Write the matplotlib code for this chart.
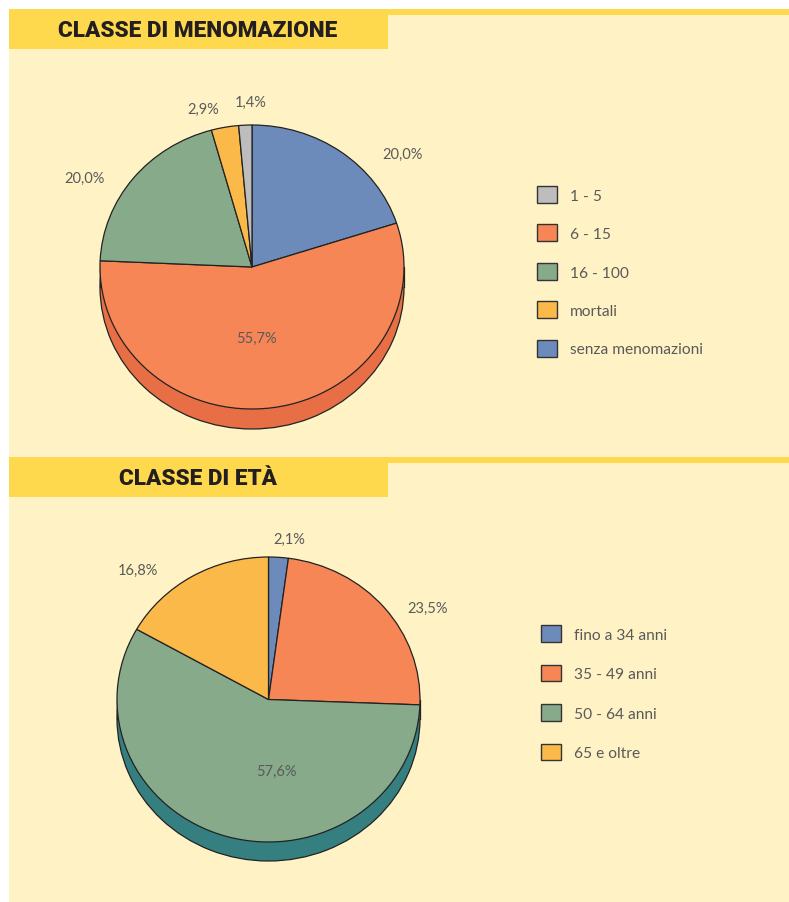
import numpy as np
import matplotlib.pyplot as plt
from matplotlib.patches import Rectangle, Patch

# --- data -------------------------------------------------------------
menom_labels = ["senza menomazioni", "6 - 15", "16 - 100", "mortali", "1 - 5"]
menom_values = [20.0, 55.7, 20.0, 2.9, 1.4]
menom_legend = ["1 - 5", "6 - 15", "16 - 100", "mortali", "senza menomazioni"]

eta_labels = ["fino a 34 anni", "35 - 49 anni", "50 - 64 anni", "65 e oltre"]
eta_values = [2.1, 23.5, 57.6, 16.8]
eta_legend = ["fino a 34 anni", "35 - 49 anni", "50 - 64 anni", "65 e oltre"]

# --- style ------------------------------------------------------------
W, H = 789, 903
BG = "#FFF3C6"
BAND = "#FFD94D"
TXT = "#5A5A5A"
palette = {
    "senza menomazioni": "#6D8BBA", "6 - 15": "#F68655", "16 - 100": "#87AA8B",
    "mortali": "#FBB94A", "1 - 5": "#BDBDBD",
    "fino a 34 anni": "#6D8BBA", "35 - 49 anni": "#F68655",
    "50 - 64 anni": "#87AA8B", "65 e oltre": "#FBB94A",
}
LABEL_FONT = ["Lato", "DejaVu Sans"]
HEAD_FONT = ["Roboto", "DejaVu Sans"]

fig = plt.figure(figsize=(W / 100, H / 100), dpi=100)
fig.patch.set_facecolor("white")

# background in pixel coordinates
bg = fig.add_axes([0, 0, 1, 1])
bg.set_xlim(0, W)
bg.set_ylim(H, 0)
bg.axis("off")
bg.add_patch(Rectangle((9, 10), W - 9, H - 10, facecolor=BG, edgecolor="none"))
for y_top, title in [(10, "CLASSE DI MENOMAZIONE"), (458, "CLASSE DI ETÀ")]:
    bg.add_patch(Rectangle((9, y_top), W - 9, 6, facecolor=BAND, edgecolor="none"))
    bg.add_patch(Rectangle((9, y_top + 6), 379, 34, facecolor=BAND, edgecolor="none"))
    bg.text(198, y_top + 21, title, ha="center", va="center", fontsize=16.2,
            fontweight="black", color="#231F20", family=HEAD_FONT)


def draw_pie(cx, cy, rx, ry, depth, values, labels, side_color, label_pos):
    half = 210
    ax = fig.add_axes([(cx - half) / W, (H - cy - half) / H, 2 * half / W, 2 * half / H])
    ax.patch.set_alpha(0)
    d = depth / ry
    # cylinder side
    ax.pie([1], colors=[side_color], center=(0, -d), radius=1, startangle=90,
           wedgeprops=dict(edgecolor="#222222", linewidth=0.9))
    ax.add_patch(Rectangle((-1, -d), 2, d, facecolor=side_color, edgecolor="none", zorder=1.5))
    ax.plot([-1, -1], [0, -d], color="#222222", lw=0.9, zorder=1.6)
    ax.plot([1, 1], [0, -d], color="#222222", lw=0.9, zorder=1.6)
    wedges, _ = ax.pie(values, colors=[palette[l] for l in labels], startangle=90,
                       counterclock=False, radius=1,
                       wedgeprops=dict(edgecolor="#222222", linewidth=0.9))
    for w in wedges:
        w.set_zorder(2)
    for v, (px, py) in zip(values, label_pos):
        ax.text(px, py, f"{v:.1f}%".replace(".", ","), ha="center", va="center",
                fontsize=10.5, color=TXT, family=LABEL_FONT, zorder=3)
    ax.set_aspect("auto")
    ax.set_xlim(-half / rx, half / rx)
    ax.set_ylim(-half / ry, half / ry)
    ax.axis("off")
    return ax


draw_pie(252, 268, 152, 142, 20, menom_values, menom_labels, "#E86F45",
         [(0.99, 0.80), (0.03, -0.50), (-1.10, 0.63), (-0.32, 1.11), (-0.01, 1.16)])
draw_pie(268.5, 700.5, 151.5, 142.5, 19, eta_values, eta_labels, "#367F80",
         [(0.14, 1.13), (1.05, 0.64), (0.05, -0.50), (-0.86, 0.91)])


def draw_legend(names, x, y_top, spacing):
    handles = [Patch(facecolor=palette[n], edgecolor="#333333", linewidth=1.0) for n in names]
    leg = bg.legend(handles, names, loc="upper left", bbox_to_anchor=(x / W, 1 - y_top / H),
                    bbox_transform=fig.transFigure, frameon=False,
                    handlelength=1.3, handleheight=1.3, labelspacing=spacing,
                    handletextpad=0.8, borderpad=0, borderaxespad=0,
                    prop={"family": LABEL_FONT, "size": 11.2})
    for t in leg.get_texts():
        t.set_color(TXT)
    return leg


leg1 = draw_legend(menom_legend, 537, 187, 1.38)
bg.add_artist(leg1)
draw_legend(eta_legend, 541, 626, 1.45)

fig.savefig("out.png", dpi=100, facecolor=fig.get_facecolor())
